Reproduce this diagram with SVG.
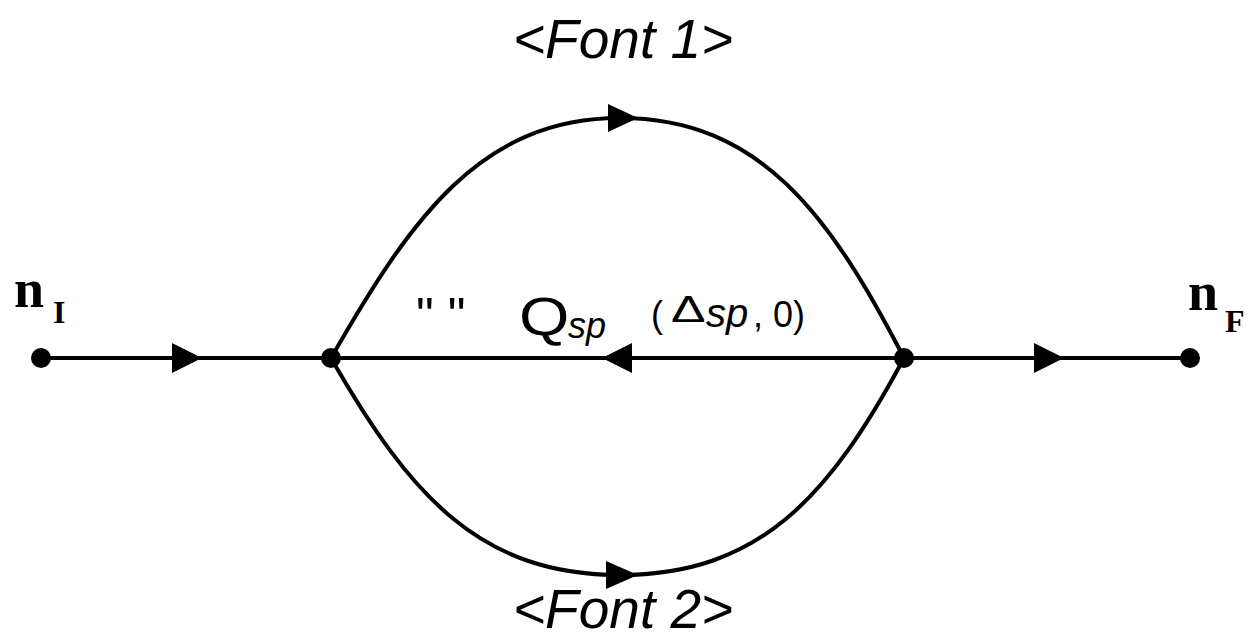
<svg xmlns="http://www.w3.org/2000/svg" width="1255" height="641" viewBox="0 0 1255 641">
<style>
.ln{fill:none;stroke:#000;stroke-width:4}
.dot{fill:#000}
.arr{fill:#000}
.sans{font-family:"Liberation Sans",Arial,sans-serif;fill:#000}
.serif{font-family:"Liberation Serif","Times New Roman",serif;font-weight:bold;fill:#000}
</style>
<rect width="1255" height="641" fill="#fff"/>
<g id="connectors">
<path class="ln" d="M41,358 H1190"/>
<path class="ln" d="M331,358 C410,220 480,118 620,118 C760,118 830,215 904,358"/>
<path class="ln" d="M331,358 C410,496 480,575 620,575 C760,575 830,496 904,358"/>
<polygon class="arr" points="172,343 202,358 172,373"/>
<polygon class="arr" points="632,343 602,358 632,373"/>
<polygon class="arr" points="1034,343 1064,358 1034,373"/>
<polygon class="arr" points="608,104 638,118 608,132"/>
<polygon class="arr" points="606,561 638,575 606,589"/>
</g>
<g id="nI"><circle class="dot" cx="41" cy="358" r="10"/>
<text class="serif" x="14" y="307" font-size="54">n</text><text class="serif" x="53" y="323" font-size="32">I</text></g>
<g id="nA"><circle class="dot" cx="331" cy="358" r="10"/></g>
<g id="nB"><circle class="dot" cx="904" cy="358" r="10"/></g>
<g id="nF"><circle class="dot" cx="1190" cy="358" r="10"/>
<text class="serif" x="1188" y="310" font-size="54">n</text><text class="serif" x="1225" y="332" font-size="32">F</text></g>
<g id="labels">
<text class="sans" x="513" y="58" font-size="55" font-style="italic">&lt;Font 1&gt;</text>
<text class="sans" x="513" y="628" font-size="55" font-style="italic">&lt;Font 2&gt;</text>
<text class="sans" x="416" y="333" font-size="50">" "</text>
<text class="sans" transform="translate(519,335) scale(1.2,1)" font-size="54">Q</text>
<text class="sans" x="568" y="338" font-size="36" font-style="italic">sp</text>
<text class="sans" x="651" y="327" font-size="36">(</text>
<text class="sans" transform="translate(671,322) scale(1.4,1)" font-size="37">Δ</text>
<text class="sans" x="706" y="327" font-size="40" font-style="italic">sp</text>
<text class="sans" x="753" y="327" font-size="36">, 0)</text>
</g>
</svg>
